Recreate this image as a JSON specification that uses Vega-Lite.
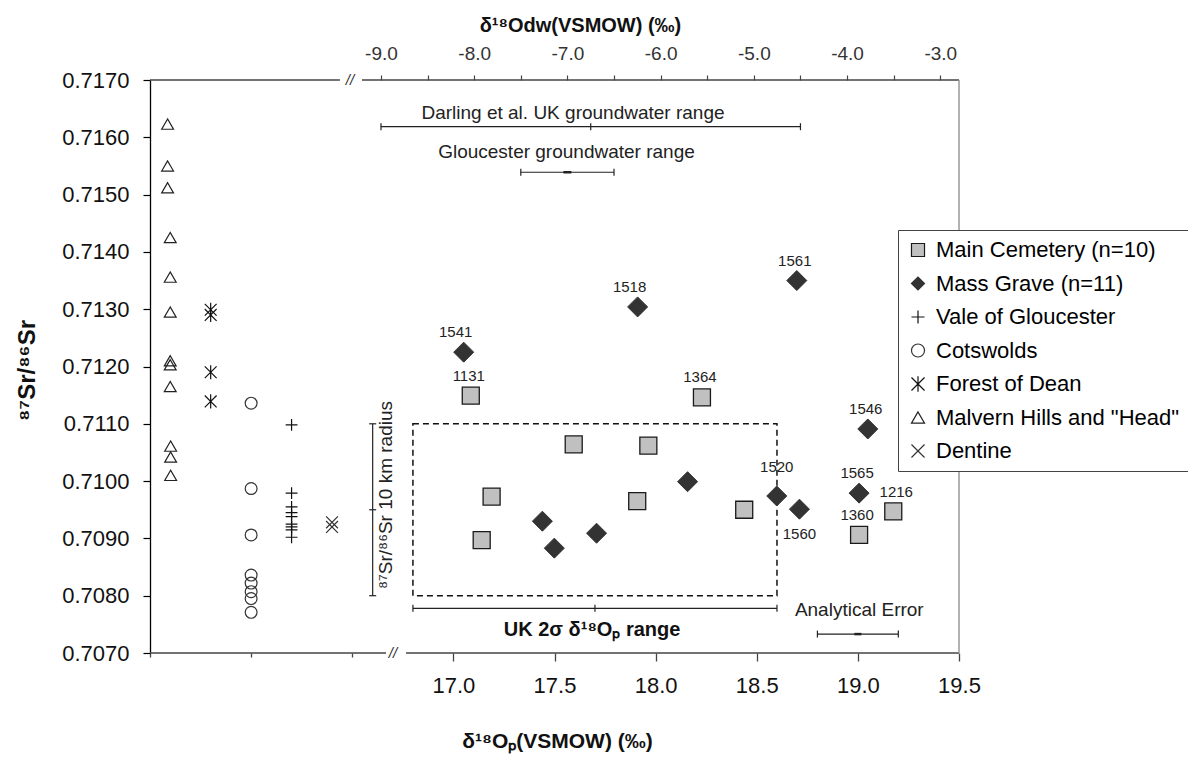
{
  "$schema": "https://vega.github.io/schema/vega-lite/v6.json",
  "width": 809,
  "height": 573,
  "autosize": {"type": "none"},
  "padding": {"left": 150, "top": 80, "right": 229, "bottom": 108},
  "background": "white",
  "config": {
    "font": "Liberation Sans",
    "view": {"stroke": null},
    "axis": {"grid": false, "labelFont": "Liberation Sans", "titleFont": "Liberation Sans"},
    "legend": {
      "orient": "none", "legendX": 748, "legendY": 150,
      "strokeColor": "#444", "fillColor": "white", "padding": 9,
      "labelFontSize": 22, "labelColor": "black", "labelFont": "Liberation Sans",
      "rowPadding": 11.5, "symbolSize": 170, "symbolStrokeWidth": 1.2,
      "labelOffset": 7, "labelLimit": 400
    }
  },
  "datasets": {
    "frame": [
      {"part": "bottom", "x1": 15.5, "x2": 16.667, "y1": 0.707, "y2": 0.707},
      {"part": "bottom", "x1": 16.766, "x2": 19.5, "y1": 0.707, "y2": 0.707},
      {"part": "top", "x1": 15.5, "x2": 16.439, "y1": 0.717, "y2": 0.717},
      {"part": "top", "x1": 16.548, "x2": 19.5, "y1": 0.717, "y2": 0.717},
      {"part": "right", "x1": 19.5, "x2": 19.5, "y1": 0.707, "y2": 0.717}
    ],
    "breaks": [{"o": 16.7015, "sr": 0.707}, {"o": 16.489, "sr": 0.717}],
    "box": [{"o1": 16.8, "o2": 18.6, "sr1": 0.708, "sr2": 0.711}],
    "ukrange": [{"lo": 16.8, "mid": 17.7, "hi": 18.6, "sr": 0.70778}],
    "srbar": [{"o": 16.601, "lo": 0.708, "mid": 0.7095, "hi": 0.711}],
    "aerr": [{"lo": 18.8, "mid": 19.0, "hi": 19.2, "sr": 0.70733}],
    "notes": [
      {"kind": "plain", "text": "Analytical Error", "o": 19.007, "sr": 0.70775},
      {"kind": "bold", "text": "UK 2σ δ¹⁸Oₚ range", "o": 17.686, "sr": 0.7074},
      {"kind": "rotated", "text": "⁸⁷Sr/⁸⁶Sr 10 km radius", "o": 16.667, "sr": 0.709757}
    ],
    "gw": [
      {"name": "Darling", "lo": -9.0, "hi": -4.5, "mid": -6.75, "sr": 0.716185},
      {"name": "Gloucester", "lo": -7.5, "hi": -6.5, "mid": -7.0, "sr": 0.71539}
    ],
    "gwtext": [
      {"text": "Darling et al. UK groundwater range", "dw": -6.94, "sr": 0.716424},
      {"text": "Gloucester groundwater range", "dw": -7.01, "sr": 0.715749}
    ],
    "pts": [
      {"series": "Main Cemetery (n=10)", "o": 17.086, "sr": 0.71149, "id": "1131"},
      {"series": "Main Cemetery (n=10)", "o": 18.229, "sr": 0.71146, "id": "1364"},
      {"series": "Main Cemetery (n=10)", "o": 17.595, "sr": 0.71064, "id": ""},
      {"series": "Main Cemetery (n=10)", "o": 17.964, "sr": 0.71062, "id": ""},
      {"series": "Main Cemetery (n=10)", "o": 17.189, "sr": 0.70973, "id": ""},
      {"series": "Main Cemetery (n=10)", "o": 17.140, "sr": 0.70897, "id": ""},
      {"series": "Main Cemetery (n=10)", "o": 17.909, "sr": 0.70965, "id": ""},
      {"series": "Main Cemetery (n=10)", "o": 18.438, "sr": 0.70950, "id": ""},
      {"series": "Main Cemetery (n=10)", "o": 19.175, "sr": 0.70947, "id": "1216"},
      {"series": "Main Cemetery (n=10)", "o": 19.006, "sr": 0.70906, "id": "1360"},
      {"series": "Mass Grave (n=11)", "o": 17.051, "sr": 0.71225, "id": "1541"},
      {"series": "Mass Grave (n=11)", "o": 17.911, "sr": 0.71304, "id": "1518"},
      {"series": "Mass Grave (n=11)", "o": 17.440, "sr": 0.70930, "id": ""},
      {"series": "Mass Grave (n=11)", "o": 17.499, "sr": 0.70883, "id": ""},
      {"series": "Mass Grave (n=11)", "o": 17.708, "sr": 0.70909, "id": ""},
      {"series": "Mass Grave (n=11)", "o": 18.158, "sr": 0.70999, "id": ""},
      {"series": "Mass Grave (n=11)", "o": 18.599, "sr": 0.70974, "id": "1520"},
      {"series": "Mass Grave (n=11)", "o": 18.711, "sr": 0.70951, "id": "1560"},
      {"series": "Mass Grave (n=11)", "o": 19.006, "sr": 0.70979, "id": "1565"},
      {"series": "Mass Grave (n=11)", "o": 19.049, "sr": 0.71091, "id": "1546"},
      {"series": "Mass Grave (n=11)", "o": 18.698, "sr": 0.71350, "id": "1561"},
      {"series": "Malvern Hills and \"Head\"", "o": 15.587, "sr": 0.71623, "id": ""},
      {"series": "Malvern Hills and \"Head\"", "o": 15.587, "sr": 0.71550, "id": ""},
      {"series": "Malvern Hills and \"Head\"", "o": 15.587, "sr": 0.71512, "id": ""},
      {"series": "Malvern Hills and \"Head\"", "o": 15.600, "sr": 0.71425, "id": ""},
      {"series": "Malvern Hills and \"Head\"", "o": 15.600, "sr": 0.71356, "id": ""},
      {"series": "Malvern Hills and \"Head\"", "o": 15.600, "sr": 0.71295, "id": ""},
      {"series": "Malvern Hills and \"Head\"", "o": 15.600, "sr": 0.71210, "id": ""},
      {"series": "Malvern Hills and \"Head\"", "o": 15.600, "sr": 0.71203, "id": ""},
      {"series": "Malvern Hills and \"Head\"", "o": 15.600, "sr": 0.71165, "id": ""},
      {"series": "Malvern Hills and \"Head\"", "o": 15.602, "sr": 0.71061, "id": ""},
      {"series": "Malvern Hills and \"Head\"", "o": 15.602, "sr": 0.71042, "id": ""},
      {"series": "Malvern Hills and \"Head\"", "o": 15.602, "sr": 0.71010, "id": ""},
      {"series": "Forest of Dean", "o": 15.800, "sr": 0.71299, "id": ""},
      {"series": "Forest of Dean", "o": 15.800, "sr": 0.71290, "id": ""},
      {"series": "Forest of Dean", "o": 15.800, "sr": 0.71190, "id": ""},
      {"series": "Forest of Dean", "o": 15.800, "sr": 0.71139, "id": ""},
      {"series": "Cotswolds", "o": 16.0, "sr": 0.71136, "id": ""},
      {"series": "Cotswolds", "o": 16.0, "sr": 0.70987, "id": ""},
      {"series": "Cotswolds", "o": 16.0, "sr": 0.70906, "id": ""},
      {"series": "Cotswolds", "o": 16.0, "sr": 0.70836, "id": ""},
      {"series": "Cotswolds", "o": 16.0, "sr": 0.70822, "id": ""},
      {"series": "Cotswolds", "o": 16.0, "sr": 0.70807, "id": ""},
      {"series": "Cotswolds", "o": 16.0, "sr": 0.70795, "id": ""},
      {"series": "Cotswolds", "o": 16.0, "sr": 0.70771, "id": ""},
      {"series": "Vale of Gloucester", "o": 16.20, "sr": 0.71098, "id": ""},
      {"series": "Vale of Gloucester", "o": 16.20, "sr": 0.70979, "id": ""},
      {"series": "Vale of Gloucester", "o": 16.20, "sr": 0.70955, "id": ""},
      {"series": "Vale of Gloucester", "o": 16.20, "sr": 0.70945, "id": ""},
      {"series": "Vale of Gloucester", "o": 16.20, "sr": 0.70938, "id": ""},
      {"series": "Vale of Gloucester", "o": 16.20, "sr": 0.70925, "id": ""},
      {"series": "Vale of Gloucester", "o": 16.20, "sr": 0.70920, "id": ""},
      {"series": "Vale of Gloucester", "o": 16.20, "sr": 0.70915, "id": ""},
      {"series": "Vale of Gloucester", "o": 16.20, "sr": 0.70902, "id": ""},
      {"series": "Dentine", "o": 16.40, "sr": 0.70928, "id": ""},
      {"series": "Dentine", "o": 16.40, "sr": 0.70920, "id": ""}
    ]
  },
  "layer": [
    {
      "data": {"name": "pts"},
      "transform": [{"filter": "datum.series != 'Main Cemetery (n=10)' && datum.series != 'Mass Grave (n=11)'"}],
      "mark": {"type": "point", "size": 140, "strokeWidth": 1.2, "opacity": 1},
      "encoding": {
        "x": {"field": "o", "type": "quantitative",
          "scale": {"domain": [15.5, 19.5], "nice": false, "zero": false},
          "axis": {"orient": "bottom", "values": [15.5, 16, 16.5, 17, 17.5, 18, 18.5, 19, 19.5],
            "labelExpr": "datum.value > 16.9 ? format(datum.value, '.1f') : ''",
            "domain": false,
            "tickSize": {"condition": {"test": "datum.value < 16.9", "value": 4}, "value": 8},
            "tickColor": "#444", "tickWidth": 1.3,
            "labelFontSize": 22, "labelColor": "#111", "labelPadding": 14,
            "labelFlush": false, "labelOverlap": false,
            "title": "δ¹⁸Oₚ(VSMOW) (‰)", "titleFontSize": 21, "titleFontWeight": "bold", "titleColor": "#111",
            "titleX": 407, "titleY": 88, "titleAlign": "center", "titleBaseline": "middle"}},
        "y": {"field": "sr", "type": "quantitative",
          "scale": {"domain": [0.707, 0.717], "nice": false, "zero": false},
          "axis": {"values": [0.707, 0.7075, 0.708, 0.7085, 0.709, 0.7095, 0.71, 0.7105, 0.711, 0.7115, 0.712, 0.7125, 0.713, 0.7135, 0.714, 0.7145, 0.715, 0.7155, 0.716, 0.7165, 0.717],
            "labelExpr": "round(datum.value * 10000) % 10 == 0 ? format(datum.value, '.4f') : ''",
            "domain": true, "domainColor": "#000", "domainWidth": 1.3,
            "tickSize": 7, "tickColor": "#000", "tickWidth": 1.2,
            "labelFontSize": 22, "labelColor": "#111", "labelPadding": 14,
            "labelFlush": false, "labelOverlap": false,
            "title": "⁸⁷Sr/⁸⁶Sr", "titleFontSize": 24, "titleFontWeight": "bold", "titleColor": "#111",
            "titleX": -123, "titleY": 290, "titleAngle": 270, "titleAlign": "center", "titleBaseline": "middle"}},
        "shape": {"field": "series", "type": "nominal", "title": null,
          "scale": {"domain": ["Main Cemetery (n=10)", "Mass Grave (n=11)", "Vale of Gloucester", "Cotswolds", "Forest of Dean", "Malvern Hills and \"Head\"", "Dentine"],
            "range": ["square", "diamond", "M-1,0H1M0,-1V1", "circle", "M-1,-1L1,1M-1,1L1,-1M0,-1.2V1.2", "triangle-up", "M-1,-1L1,1M-1,1L1,-1"]}},
        "fill": {"field": "series", "type": "nominal", "title": null,
          "scale": {"domain": ["Main Cemetery (n=10)", "Mass Grave (n=11)", "Vale of Gloucester", "Cotswolds", "Forest of Dean", "Malvern Hills and \"Head\"", "Dentine"],
            "range": ["#c0c0c0", "#333333", "transparent", "transparent", "transparent", "transparent", "transparent"]}},
        "stroke": {"field": "series", "type": "nominal", "title": null,
          "scale": {"domain": ["Main Cemetery (n=10)", "Mass Grave (n=11)", "Vale of Gloucester", "Cotswolds", "Forest of Dean", "Malvern Hills and \"Head\"", "Dentine"],
            "range": ["#1a1a1a", "#333333", "#111111", "#333333", "#111111", "#222222", "#333333"]}}
      }
    },
    {
      "data": {"name": "frame"},
      "transform": [{"filter": "datum.part != 'right'"}],
      "mark": {"type": "rule", "color": "#444", "strokeWidth": 1.5},
      "encoding": {
        "x": {"field": "x1", "type": "quantitative", "scale": {"domain": [15.5, 19.5], "nice": false, "zero": false}, "axis": null},
        "x2": {"field": "x2"},
        "y": {"field": "y1", "type": "quantitative"},
        "y2": {"field": "y2"}
      }
    },
    {
      "data": {"name": "frame"},
      "transform": [{"filter": "datum.part == 'right'"}],
      "mark": {"type": "rule", "color": "#999", "strokeWidth": 1.5},
      "encoding": {
        "x": {"field": "x1", "type": "quantitative", "scale": {"domain": [15.5, 19.5], "nice": false, "zero": false}, "axis": null},
        "x2": {"field": "x2"},
        "y": {"field": "y1", "type": "quantitative"},
        "y2": {"field": "y2"}
      }
    },
    {
      "data": {"name": "breaks"},
      "mark": {"type": "text", "text": "//", "fontSize": 15, "fontStyle": "italic", "color": "#333", "align": "center", "baseline": "middle"},
      "encoding": {
        "x": {"field": "o", "type": "quantitative", "scale": {"domain": [15.5, 19.5], "nice": false, "zero": false}, "axis": null},
        "y": {"field": "sr", "type": "quantitative"}
      }
    },
    {
      "data": {"name": "box"},
      "mark": {"type": "rect", "fill": "transparent", "stroke": "#111", "strokeWidth": 1.5, "strokeDash": [6, 4]},
      "encoding": {
        "x": {"field": "o1", "type": "quantitative", "scale": {"domain": [15.5, 19.5], "nice": false, "zero": false}, "axis": null},
        "x2": {"field": "o2"},
        "y": {"field": "sr1", "type": "quantitative"},
        "y2": {"field": "sr2"}
      }
    },
    {
      "data": {"name": "ukrange"},
      "mark": {"type": "rule", "color": "#222", "strokeWidth": 1.2},
      "encoding": {
        "x": {"field": "lo", "type": "quantitative", "scale": {"domain": [15.5, 19.5], "nice": false, "zero": false}, "axis": null},
        "x2": {"field": "hi"},
        "y": {"field": "sr", "type": "quantitative"}
      }
    },
    {
      "data": {"name": "ukrange"},
      "transform": [{"fold": ["lo", "mid", "hi"], "as": ["k", "v"]}],
      "mark": {"type": "tick", "orient": "vertical", "size": 7, "thickness": 1.2, "color": "#222", "opacity": 1},
      "encoding": {
        "x": {"field": "v", "type": "quantitative", "scale": {"domain": [15.5, 19.5], "nice": false, "zero": false}, "axis": null},
        "y": {"field": "sr", "type": "quantitative"}
      }
    },
    {
      "data": {"name": "srbar"},
      "mark": {"type": "rule", "color": "#222", "strokeWidth": 1.2},
      "encoding": {
        "x": {"field": "o", "type": "quantitative", "scale": {"domain": [15.5, 19.5], "nice": false, "zero": false}, "axis": null},
        "y": {"field": "lo", "type": "quantitative"},
        "y2": {"field": "hi"}
      }
    },
    {
      "data": {"name": "srbar"},
      "transform": [{"fold": ["lo", "mid", "hi"], "as": ["k", "v"]}],
      "mark": {"type": "tick", "orient": "horizontal", "size": 7, "thickness": 1.2, "color": "#222", "opacity": 1},
      "encoding": {
        "x": {"field": "o", "type": "quantitative", "scale": {"domain": [15.5, 19.5], "nice": false, "zero": false}, "axis": null},
        "y": {"field": "v", "type": "quantitative"}
      }
    },
    {
      "data": {"name": "aerr"},
      "mark": {"type": "rule", "color": "#222", "strokeWidth": 1.2},
      "encoding": {
        "x": {"field": "lo", "type": "quantitative", "scale": {"domain": [15.5, 19.5], "nice": false, "zero": false}, "axis": null},
        "x2": {"field": "hi"},
        "y": {"field": "sr", "type": "quantitative"}
      }
    },
    {
      "data": {"name": "aerr"},
      "transform": [{"fold": ["lo", "hi"], "as": ["k", "v"]}],
      "mark": {"type": "tick", "orient": "vertical", "size": 7, "thickness": 1.2, "color": "#222", "opacity": 1},
      "encoding": {
        "x": {"field": "v", "type": "quantitative", "scale": {"domain": [15.5, 19.5], "nice": false, "zero": false}, "axis": null},
        "y": {"field": "sr", "type": "quantitative"}
      }
    },
    {
      "data": {"name": "aerr"},
      "mark": {"type": "tick", "orient": "horizontal", "size": 7, "thickness": 2.5, "color": "#222", "opacity": 1},
      "encoding": {
        "x": {"field": "mid", "type": "quantitative", "scale": {"domain": [15.5, 19.5], "nice": false, "zero": false}, "axis": null},
        "y": {"field": "sr", "type": "quantitative"}
      }
    },
    {
      "data": {"name": "notes"},
      "transform": [{"filter": "datum.kind == 'plain'"}],
      "mark": {"type": "text", "fontSize": 19, "color": "#222", "align": "center", "baseline": "middle"},
      "encoding": {
        "x": {"field": "o", "type": "quantitative", "scale": {"domain": [15.5, 19.5], "nice": false, "zero": false}, "axis": null},
        "y": {"field": "sr", "type": "quantitative"},
        "text": {"field": "text"}
      }
    },
    {
      "data": {"name": "notes"},
      "transform": [{"filter": "datum.kind == 'bold'"}],
      "mark": {"type": "text", "fontSize": 20, "fontWeight": "bold", "color": "#111", "align": "center", "baseline": "middle"},
      "encoding": {
        "x": {"field": "o", "type": "quantitative", "scale": {"domain": [15.5, 19.5], "nice": false, "zero": false}, "axis": null},
        "y": {"field": "sr", "type": "quantitative"},
        "text": {"field": "text"}
      }
    },
    {
      "data": {"name": "notes"},
      "transform": [{"filter": "datum.kind == 'rotated'"}],
      "mark": {"type": "text", "fontSize": 19, "color": "#222", "align": "center", "baseline": "middle", "angle": 270},
      "encoding": {
        "x": {"field": "o", "type": "quantitative", "scale": {"domain": [15.5, 19.5], "nice": false, "zero": false}, "axis": null},
        "y": {"field": "sr", "type": "quantitative"},
        "text": {"field": "text"}
      }
    },
    {
      "data": {"name": "pts"},
      "transform": [{"filter": "datum.series == 'Main Cemetery (n=10)'"}],
      "mark": {"type": "point", "size": 289, "strokeWidth": 1.3, "opacity": 1},
      "encoding": {
        "x": {"field": "o", "type": "quantitative", "scale": {"domain": [15.5, 19.5], "nice": false, "zero": false}, "axis": null},
        "y": {"field": "sr", "type": "quantitative"},
        "shape": {"field": "series", "type": "nominal", "title": null},
        "fill": {"field": "series", "type": "nominal", "title": null},
        "stroke": {"field": "series", "type": "nominal", "title": null}
      }
    },
    {
      "data": {"name": "pts"},
      "transform": [{"filter": "datum.series == 'Mass Grave (n=11)'"}],
      "mark": {"type": "point", "size": 400, "strokeWidth": 1, "opacity": 1},
      "encoding": {
        "x": {"field": "o", "type": "quantitative", "scale": {"domain": [15.5, 19.5], "nice": false, "zero": false}, "axis": null},
        "y": {"field": "sr", "type": "quantitative"},
        "shape": {"field": "series", "type": "nominal", "title": null},
        "fill": {"field": "series", "type": "nominal", "title": null},
        "stroke": {"field": "series", "type": "nominal", "title": null}
      }
    },
    {
      "data": {"name": "pts"},
      "transform": [{"filter": "datum.id == '1541' || datum.id == '1518'"}],
      "mark": {"type": "text", "fontSize": 15, "color": "#222", "align": "center", "baseline": "middle", "dx": -8, "dy": -20},
      "encoding": {
        "x": {"field": "o", "type": "quantitative", "scale": {"domain": [15.5, 19.5], "nice": false, "zero": false}, "axis": null},
        "y": {"field": "sr", "type": "quantitative"},
        "text": {"field": "id"}
      }
    },
    {
      "data": {"name": "pts"},
      "transform": [{"filter": "datum.id == '1131' || datum.id == '1364' || datum.id == '1561' || datum.id == '1546' || datum.id == '1565' || datum.id == '1360'"}],
      "mark": {"type": "text", "fontSize": 15, "color": "#222", "align": "center", "baseline": "middle", "dx": -2, "dy": -20},
      "encoding": {
        "x": {"field": "o", "type": "quantitative", "scale": {"domain": [15.5, 19.5], "nice": false, "zero": false}, "axis": null},
        "y": {"field": "sr", "type": "quantitative"},
        "text": {"field": "id"}
      }
    },
    {
      "data": {"name": "pts"},
      "transform": [{"filter": "datum.id == '1216'"}],
      "mark": {"type": "text", "fontSize": 15, "color": "#222", "align": "center", "baseline": "middle", "dx": 3, "dy": -19},
      "encoding": {
        "x": {"field": "o", "type": "quantitative", "scale": {"domain": [15.5, 19.5], "nice": false, "zero": false}, "axis": null},
        "y": {"field": "sr", "type": "quantitative"},
        "text": {"field": "id"}
      }
    },
    {
      "data": {"name": "pts"},
      "transform": [{"filter": "datum.id == '1520'"}],
      "mark": {"type": "text", "fontSize": 15, "color": "#222", "align": "center", "baseline": "middle", "dy": -29},
      "encoding": {
        "x": {"field": "o", "type": "quantitative", "scale": {"domain": [15.5, 19.5], "nice": false, "zero": false}, "axis": null},
        "y": {"field": "sr", "type": "quantitative"},
        "text": {"field": "id"}
      }
    },
    {
      "data": {"name": "pts"},
      "transform": [{"filter": "datum.id == '1560'"}],
      "mark": {"type": "text", "fontSize": 15, "color": "#222", "align": "center", "baseline": "middle", "dy": 25},
      "encoding": {
        "x": {"field": "o", "type": "quantitative", "scale": {"domain": [15.5, 19.5], "nice": false, "zero": false}, "axis": null},
        "y": {"field": "sr", "type": "quantitative"},
        "text": {"field": "id"}
      }
    },
    {
      "data": {"name": "gw"},
      "mark": {"type": "rule", "color": "#222", "strokeWidth": 1.2},
      "encoding": {
        "x": {"field": "lo", "type": "quantitative",
          "scale": {"domain": [-11.478, -2.799], "nice": false, "zero": false},
          "axis": {"orient": "top", "values": [-9, -8.5, -8, -7.5, -7, -6.5, -6, -5.5, -5, -4.5, -4, -3.5, -3],
            "labelExpr": "datum.value % 1 == 0 ? '-' + format(abs(datum.value), '.1f') : ''",
            "domain": false, "tickSize": 5, "tickColor": "#444", "tickWidth": 1.2,
            "labelFontSize": 19, "labelColor": "#333", "labelPadding": 12,
            "labelFlush": false, "labelOverlap": false,
            "title": "δ¹⁸Odw(VSMOW) (‰)", "titleFontSize": 20, "titleFontWeight": "bold", "titleColor": "#111",
            "titleX": 430, "titleY": -55, "titleAlign": "center", "titleBaseline": "middle"}},
        "x2": {"field": "hi"},
        "y": {"field": "sr", "type": "quantitative"}
      }
    },
    {
      "data": {"name": "gw"},
      "transform": [{"fold": ["lo", "hi"], "as": ["k", "v"]}],
      "mark": {"type": "tick", "orient": "vertical", "size": 7, "thickness": 1.2, "color": "#222", "opacity": 1},
      "encoding": {
        "x": {"field": "v", "type": "quantitative", "scale": {"domain": [-11.478, -2.799], "nice": false, "zero": false}, "axis": null},
        "y": {"field": "sr", "type": "quantitative"}
      }
    },
    {
      "data": {"name": "gw"},
      "transform": [{"filter": "datum.name == 'Darling'"}],
      "mark": {"type": "tick", "orient": "vertical", "size": 7, "thickness": 1.2, "color": "#222", "opacity": 1},
      "encoding": {
        "x": {"field": "mid", "type": "quantitative", "scale": {"domain": [-11.478, -2.799], "nice": false, "zero": false}, "axis": null},
        "y": {"field": "sr", "type": "quantitative"}
      }
    },
    {
      "data": {"name": "gw"},
      "transform": [{"filter": "datum.name == 'Gloucester'"}],
      "mark": {"type": "tick", "orient": "horizontal", "size": 8, "thickness": 2.5, "color": "#222", "opacity": 1},
      "encoding": {
        "x": {"field": "mid", "type": "quantitative", "scale": {"domain": [-11.478, -2.799], "nice": false, "zero": false}, "axis": null},
        "y": {"field": "sr", "type": "quantitative"}
      }
    },
    {
      "data": {"name": "gwtext"},
      "mark": {"type": "text", "fontSize": 19, "color": "#222", "align": "center", "baseline": "middle"},
      "encoding": {
        "x": {"field": "dw", "type": "quantitative", "scale": {"domain": [-11.478, -2.799], "nice": false, "zero": false}, "axis": null},
        "y": {"field": "sr", "type": "quantitative"},
        "text": {"field": "text"}
      }
    }
  ],
  "resolve": {"scale": {"x": "independent"}}
}
